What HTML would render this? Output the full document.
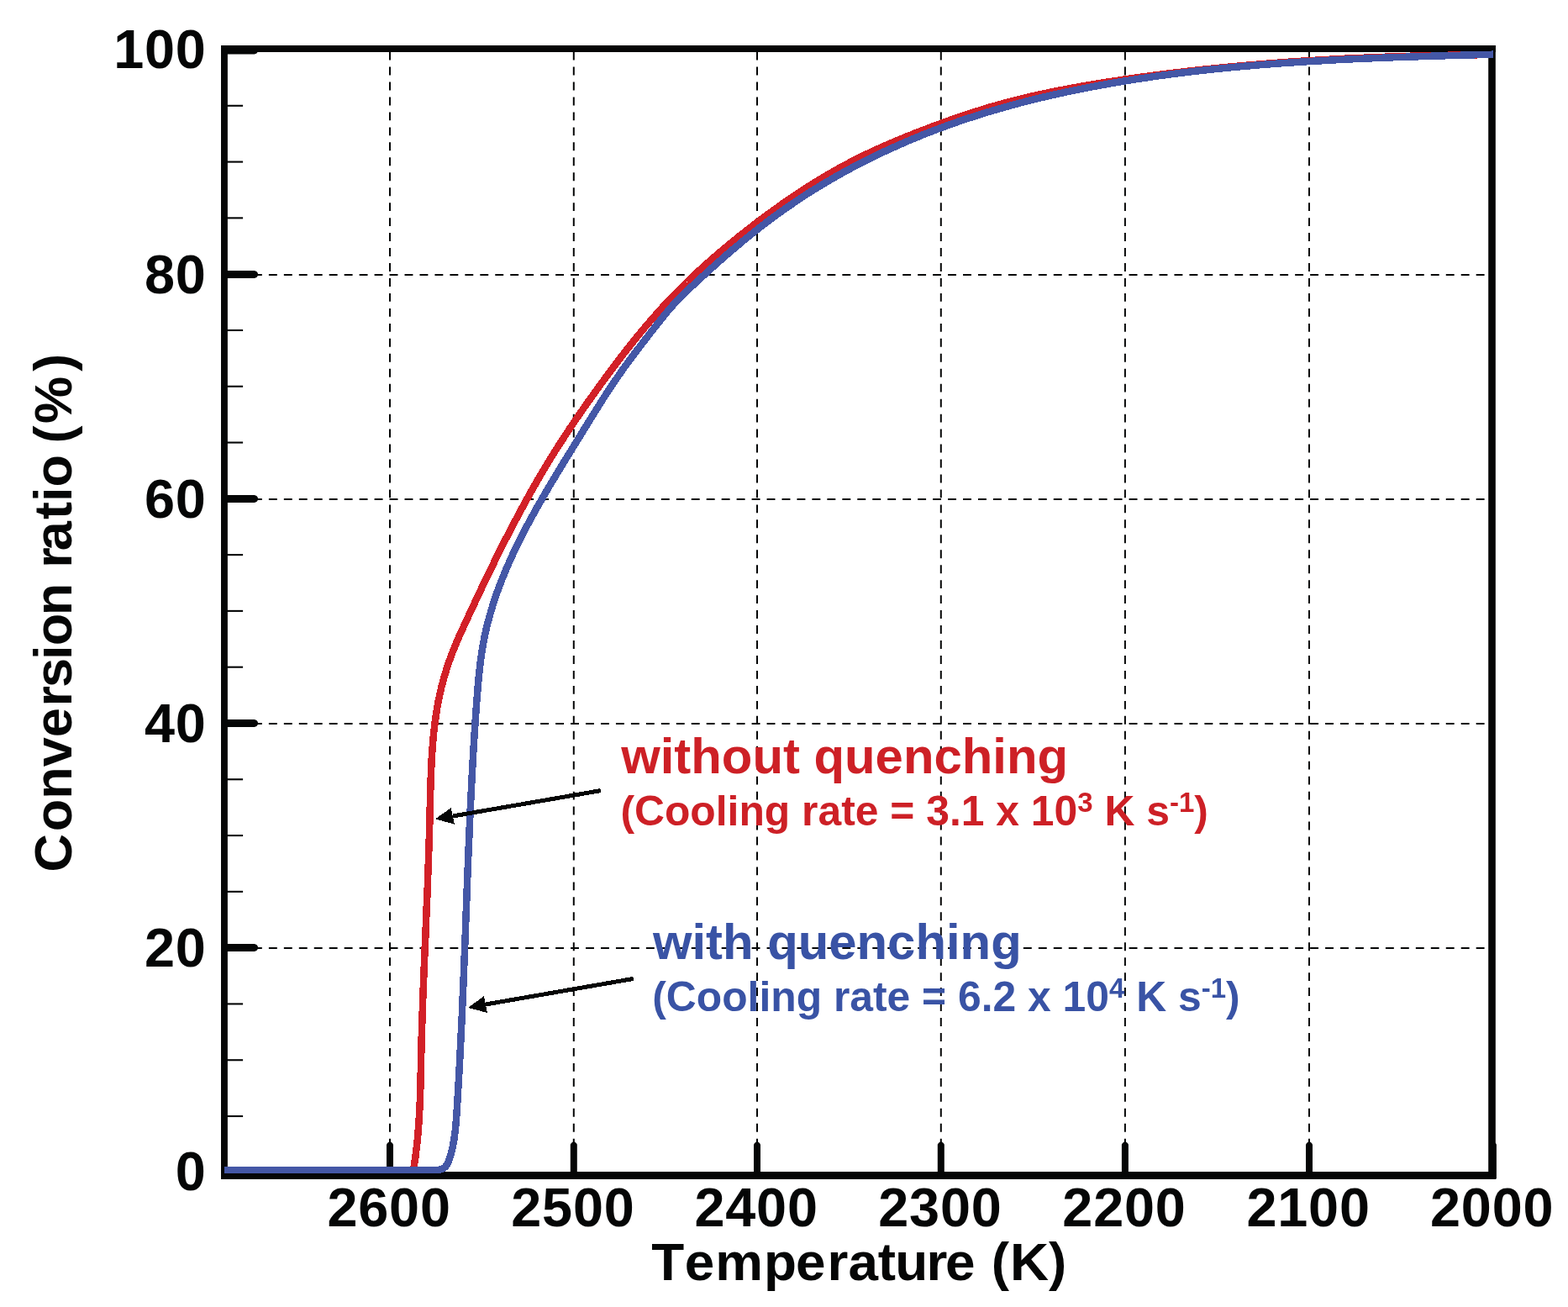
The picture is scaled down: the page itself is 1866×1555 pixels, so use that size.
<!DOCTYPE html>
<html lang="en"><head><meta charset="utf-8"><title>Conversion ratio vs temperature</title>
<style>html,body{margin:0;padding:0;background:#fff}body{width:1866px;height:1555px;overflow:hidden}svg{display:block}text{font-family:'Liberation Sans', sans-serif;font-weight:bold;font-kerning:none;font-variant-ligatures:none}</style></head><body>
<svg width="1866" height="1555" viewBox="0 0 1866 1555">
<rect width="1866" height="1555" fill="#fff"/>
<g id="gridh" stroke="#050606" stroke-width="2" stroke-dasharray="9.9 8.06" fill="none">
<line x1="266.0" y1="327.0" x2="1776" y2="327.0"/>
<line x1="266.0" y1="594.0" x2="1776" y2="594.0"/>
<line x1="266.0" y1="861.0" x2="1776" y2="861.0"/>
<line x1="266.0" y1="1128.0" x2="1776" y2="1128.0"/>
</g>
<g id="gridv" stroke="#050606" stroke-width="2" stroke-dasharray="9.9 8.06" fill="none">
<line x1="464.0" y1="61.6" x2="464.0" y2="1399"/>
<line x1="682.8" y1="61.6" x2="682.8" y2="1399"/>
<line x1="901.0" y1="61.6" x2="901.0" y2="1399"/>
<line x1="1119.8" y1="61.6" x2="1119.8" y2="1399"/>
<line x1="1338.9" y1="61.6" x2="1338.9" y2="1399"/>
<line x1="1558.0" y1="61.6" x2="1558.0" y2="1399"/>
</g>
<g id="annotations">
<text x="739.20" y="920.00" font-size="59.85" fill="#cd2026">without quenching</text>
<text x="738.40" y="981.70" font-size="49.80" fill="#cd2026">(Cooling rate = 3.1 x 10<tspan font-size="33.00" dy="-15.60">3</tspan><tspan dy="15.60"> K s</tspan><tspan font-size="33.00" dy="-15.60">-1</tspan><tspan dy="15.60">)</tspan></text>
<text x="776.90" y="1140.60" font-size="59.85" fill="#3953a5">with quenching</text>
<text x="776.20" y="1203.00" font-size="49.80" fill="#3953a5">(Cooling rate = 6.2 x 10<tspan font-size="33.00" dy="-15.60">4</tspan><tspan dy="15.60"> K s</tspan><tspan font-size="33.00" dy="-15.60">-1</tspan><tspan dy="15.60">)</tspan></text>
</g>
<g id="frame" fill="#050606">
<rect x="263.00" y="54.00" width="1516.80" height="8.00"/>
<rect x="263.00" y="1394.05" width="1516.80" height="8.95"/>
<rect x="263.00" y="54.00" width="7.90" height="1349.00"/>
<rect x="1771.20" y="54.00" width="8.60" height="1349.00"/>
<path d="M267,55.6 L302.8,55.6 L305.4,56.6 L306.9,58.6 L306.9,61.4 L305.4,63.4 L302.8,64.4 L267,64.4 Z"/>
<path d="M267,322.1 L302.8,322.1 L305.4,323.1 L306.9,325.1 L306.9,327.9 L305.4,329.9 L302.8,330.9 L267,330.9 Z"/>
<path d="M267,589.1 L302.8,589.1 L305.4,590.1 L306.9,592.1 L306.9,594.9 L305.4,596.9 L302.8,597.9 L267,597.9 Z"/>
<path d="M267,856.1 L302.8,856.1 L305.4,857.1 L306.9,859.1 L306.9,861.9 L305.4,863.9 L302.8,864.9 L267,864.9 Z"/>
<path d="M267,1123.1 L302.8,1123.1 L305.4,1124.1 L306.9,1126.1 L306.9,1128.9 L305.4,1130.9 L302.8,1131.9 L267,1131.9 Z"/>
<path d="M267,1390.2 L302.8,1390.2 L305.4,1391.2 L306.9,1393.2 L306.9,1396.0 L305.4,1398.0 L302.8,1399.0 L267,1399.0 Z"/>
<path d="M460.0,1402.6 L460.0,1361.8 L461.0,1360 L463.0,1358.4 L465.0,1358.4 L467.0,1360 L468.0,1361.8 L468.0,1402.6 Z"/>
<path d="M678.8,1402.6 L678.8,1361.8 L679.8,1360 L681.8,1358.4 L683.8,1358.4 L685.8,1360 L686.8,1361.8 L686.8,1402.6 Z"/>
<path d="M897.0,1402.6 L897.0,1361.8 L898.0,1360 L900.0,1358.4 L902.0,1358.4 L904.0,1360 L905.0,1361.8 L905.0,1402.6 Z"/>
<path d="M1115.8,1402.6 L1115.8,1361.8 L1116.8,1360 L1118.8,1358.4 L1120.8,1358.4 L1122.8,1360 L1123.8,1361.8 L1123.8,1402.6 Z"/>
<path d="M1334.9,1402.6 L1334.9,1361.8 L1335.9,1360 L1337.9,1358.4 L1339.9,1358.4 L1341.9,1360 L1342.9,1361.8 L1342.9,1402.6 Z"/>
<path d="M1554.0,1402.6 L1554.0,1361.8 L1555.0,1360 L1557.0,1358.4 L1559.0,1358.4 L1561.0,1360 L1562.0,1361.8 L1562.0,1402.6 Z"/>
<path d="M1772.9,1402.6 L1772.9,1361.8 L1773.9,1360 L1775.9,1358.4 L1777.9,1358.4 L1779.9,1360 L1780.9,1361.8 L1780.9,1402.6 Z"/>
<rect x="267" y="1326.96" width="22.1" height="2.1"/>
<rect x="267" y="1260.17" width="22.1" height="2.1"/>
<rect x="267" y="1193.38" width="22.1" height="2.1"/>
<rect x="267" y="1059.80" width="22.1" height="2.1"/>
<rect x="267" y="993.01" width="22.1" height="2.1"/>
<rect x="267" y="926.22" width="22.1" height="2.1"/>
<rect x="267" y="792.64" width="22.1" height="2.1"/>
<rect x="267" y="725.85" width="22.1" height="2.1"/>
<rect x="267" y="659.06" width="22.1" height="2.1"/>
<rect x="267" y="525.48" width="22.1" height="2.1"/>
<rect x="267" y="458.69" width="22.1" height="2.1"/>
<rect x="267" y="391.90" width="22.1" height="2.1"/>
<rect x="267" y="258.32" width="22.1" height="2.1"/>
<rect x="267" y="191.53" width="22.1" height="2.1"/>
<rect x="267" y="124.74" width="22.1" height="2.1"/>
</g>
<g id="curves" fill="none" stroke-width="8.5" stroke-linejoin="round" shape-rendering="crispEdges">
<path stroke="#d22027" d="M491.9,1392.0 L492.3,1389.5 L492.8,1387.1 L493.2,1384.6 L493.5,1382.1 L493.9,1379.6 L494.3,1377.2 L494.6,1374.7 L494.9,1372.2 L495.2,1369.7 L495.5,1367.3 L495.8,1364.8 L496.1,1362.3 L496.4,1359.8 L496.6,1357.3 L496.9,1354.8 L497.1,1352.3 L497.3,1349.9 L497.5,1347.4 L497.7,1344.9 L497.9,1342.4 L498.1,1339.9 L498.3,1337.4 L498.5,1334.9 L498.6,1332.4 L498.8,1329.9 L498.9,1327.4 L499.1,1324.9 L499.2,1322.4 L499.3,1319.9 L499.4,1317.4 L499.5,1314.9 L499.7,1312.4 L499.8,1309.8 L499.8,1307.3 L499.9,1304.8 L500.0,1302.3 L500.1,1299.8 L500.2,1297.3 L500.3,1294.8 L500.3,1292.3 L500.4,1289.8 L500.5,1287.3 L500.5,1284.8 L500.6,1282.3 L500.6,1279.7 L500.7,1277.2 L500.8,1274.7 L500.8,1272.2 L500.9,1269.7 L500.9,1267.2 L501.0,1264.7 L501.0,1262.2 L501.1,1259.7 L501.1,1257.2 L501.2,1254.7 L501.3,1252.1 L501.3,1249.6 L501.4,1247.1 L501.5,1244.6 L501.5,1242.1 L501.6,1239.6 L501.7,1237.1 L501.7,1234.6 L501.8,1232.1 L501.9,1229.6 L501.9,1227.1 L502.0,1224.6 L502.1,1222.1 L502.2,1219.6 L502.3,1217.1 L502.3,1214.6 L502.4,1212.1 L502.5,1209.6 L502.6,1207.1 L502.7,1204.6 L502.8,1202.1 L502.9,1199.6 L502.9,1197.1 L503.0,1194.6 L503.1,1192.1 L503.2,1189.6 L503.3,1187.1 L503.4,1184.6 L503.5,1182.1 L503.6,1179.6 L503.7,1177.1 L503.8,1174.6 L503.9,1172.1 L504.0,1169.6 L504.1,1167.1 L504.2,1164.6 L504.3,1162.1 L504.4,1159.6 L504.5,1157.1 L504.6,1154.6 L504.7,1152.1 L504.8,1149.6 L504.9,1147.1 L505.0,1144.6 L505.1,1142.1 L505.2,1139.6 L505.3,1137.1 L505.4,1134.7 L505.5,1132.2 L505.6,1129.7 L505.7,1127.2 L505.8,1124.7 L505.9,1122.2 L506.0,1119.7 L506.2,1117.2 L506.3,1114.7 L506.4,1112.2 L506.5,1109.7 L506.6,1107.2 L506.7,1104.7 L506.8,1102.2 L506.9,1099.7 L507.0,1097.2 L507.1,1094.7 L507.2,1092.2 L507.3,1089.7 L507.4,1087.2 L507.5,1084.7 L507.6,1082.2 L507.7,1079.7 L507.8,1077.2 L507.9,1074.7 L508.0,1072.2 L508.2,1069.7 L508.3,1067.2 L508.4,1064.7 L508.5,1062.2 L508.6,1059.7 L508.7,1057.2 L508.8,1054.7 L508.9,1052.2 L509.0,1049.7 L509.0,1047.2 L509.1,1044.7 L509.2,1042.2 L509.3,1039.7 L509.4,1037.2 L509.5,1034.7 L509.6,1032.2 L509.7,1029.7 L509.8,1027.2 L509.9,1024.7 L510.0,1022.2 L510.1,1019.7 L510.1,1017.2 L510.2,1014.7 L510.3,1012.2 L510.4,1009.7 L510.5,1007.2 L510.6,1004.7 L510.6,1002.1 L510.7,999.6 L510.8,997.1 L510.9,994.6 L510.9,992.1 L511.0,989.6 L511.1,987.1 L511.2,984.6 L511.2,982.1 L511.3,979.5 L511.4,977.0 L511.4,974.5 L511.5,972.0 L511.5,969.5 L511.6,967.0 L511.7,964.5 L511.7,961.9 L511.8,959.4 L511.8,956.9 L511.9,954.4 L512.0,951.9 L512.0,949.4 L512.1,946.8 L512.1,944.3 L512.2,941.8 L512.3,939.3 L512.4,936.8 L512.4,934.3 L512.5,931.7 L512.6,929.2 L512.7,926.7 L512.8,924.2 L512.9,921.7 L513.0,919.2 L513.1,916.7 L513.2,914.1 L513.3,911.6 L513.4,909.1 L513.5,906.6 L513.7,904.1 L513.8,901.6 L514.0,899.1 L514.1,896.6 L514.3,894.1 L514.5,891.6 L514.7,889.1 L514.9,886.6 L515.1,884.1 L515.3,881.6 L515.5,879.1 L515.7,876.6 L516.0,874.2 L516.2,871.7 L516.5,869.2 L516.8,866.7 L517.1,864.2 L517.4,861.7 L517.7,859.3 L518.0,856.8 L518.4,854.3 L518.7,851.9 L519.1,849.4 L519.5,846.9 L519.9,844.5 L520.3,842.0 L520.7,839.6 L521.2,837.1 L521.6,834.7 L522.1,832.2 L522.6,829.8 L523.1,827.4 L523.6,824.9 L524.2,822.5 L524.8,820.1 L525.3,817.6 L525.9,815.2 L526.6,812.8 L527.2,810.4 L527.9,808.0 L528.5,805.6 L529.2,803.2 L530.0,800.8 L530.7,798.4 L531.4,796.0 L532.2,793.6 L533.0,791.3 L533.8,788.9 L534.6,786.5 L535.5,784.2 L536.3,781.8 L537.2,779.5 L538.1,777.1 L539.0,774.8 L539.9,772.5 L540.9,770.2 L541.8,767.8 L542.8,765.5 L543.8,763.2 L544.8,760.9 L545.8,758.6 L546.8,756.3 L547.8,754.1 L548.9,751.8 L549.9,749.5 L551.0,747.2 L552.0,744.9 L553.0,742.6 L554.1,740.4 L555.2,738.1 L556.2,735.8 L557.3,733.5 L558.3,731.3 L559.4,729.0 L560.4,726.7 L561.5,724.5 L562.6,722.2 L563.6,719.9 L564.7,717.7 L565.7,715.4 L566.8,713.1 L567.9,710.9 L568.9,708.6 L570.0,706.3 L571.1,704.1 L572.2,701.8 L573.2,699.6 L574.3,697.3 L575.4,695.0 L576.5,692.8 L577.6,690.5 L578.6,688.3 L579.7,686.0 L580.8,683.8 L581.9,681.5 L583.0,679.3 L584.1,677.0 L585.2,674.8 L586.3,672.5 L587.4,670.3 L588.5,668.0 L589.6,665.8 L590.7,663.5 L591.8,661.3 L592.9,659.0 L594.1,656.8 L595.2,654.6 L596.3,652.3 L597.4,650.1 L598.5,647.8 L599.7,645.6 L600.8,643.4 L601.9,641.1 L603.1,638.9 L604.2,636.7 L605.4,634.5 L606.5,632.2 L607.7,630.0 L608.8,627.8 L610.0,625.6 L611.2,623.3 L612.3,621.1 L613.5,618.9 L614.7,616.7 L615.8,614.5 L617.0,612.3 L618.2,610.1 L619.4,607.9 L620.6,605.7 L621.8,603.5 L623.0,601.3 L624.2,599.1 L625.4,596.9 L626.6,594.7 L627.8,592.5 L629.0,590.3 L630.2,588.1 L631.4,585.9 L632.7,583.7 L633.9,581.6 L635.1,579.4 L636.4,577.2 L637.6,575.0 L638.9,572.9 L640.1,570.7 L641.4,568.5 L642.7,566.4 L643.9,564.2 L645.2,562.1 L646.5,559.9 L647.7,557.8 L649.0,555.6 L650.3,553.5 L651.6,551.3 L652.9,549.2 L654.2,547.1 L655.5,544.9 L656.8,542.8 L658.2,540.7 L659.5,538.5 L660.8,536.4 L662.1,534.3 L663.5,532.2 L664.8,530.1 L666.2,528.0 L667.5,525.9 L668.9,523.8 L670.3,521.7 L671.6,519.6 L673.0,517.5 L674.4,515.4 L675.8,513.3 L677.1,511.2 L678.5,509.1 L679.9,507.1 L681.3,505.0 L682.7,502.9 L684.1,500.8 L685.5,498.8 L686.9,496.7 L688.4,494.7 L689.8,492.6 L691.2,490.5 L692.6,488.5 L694.1,486.4 L695.5,484.4 L696.9,482.3 L698.4,480.3 L699.8,478.2 L701.3,476.2 L702.7,474.1 L704.2,472.1 L705.6,470.1 L707.1,468.0 L708.6,466.0 L710.0,464.0 L711.5,461.9 L713.0,459.9 L714.4,457.9 L715.9,455.8 L717.4,453.8 L718.9,451.8 L720.3,449.8 L721.8,447.8 L723.3,445.7 L724.8,443.7 L726.3,441.7 L727.8,439.7 L729.3,437.7 L730.8,435.7 L732.3,433.7 L733.8,431.7 L735.4,429.7 L736.9,427.7 L738.4,425.7 L739.9,423.7 L741.5,421.7 L743.0,419.8 L744.5,417.8 L746.1,415.8 L747.6,413.9 L749.2,411.9 L750.8,409.9 L752.3,408.0 L753.9,406.0 L755.5,404.1 L757.0,402.1 L758.6,400.2 L760.2,398.2 L761.8,396.3 L763.4,394.4 L765.0,392.5 L766.6,390.5 L768.2,388.6 L769.8,386.7 L771.5,384.8 L773.1,382.9 L774.7,381.0 L776.4,379.1 L778.0,377.2 L779.7,375.4 L781.3,373.5 L783.0,371.6 L784.7,369.8 L786.3,367.9 L788.0,366.1 L789.7,364.2 L791.4,362.4 L793.1,360.6 L794.8,358.7 L796.5,356.9 L798.3,355.1 L800.0,353.3 L801.7,351.5 L803.5,349.7 L805.2,347.9 L807.0,346.1 L808.7,344.4 L810.5,342.6 L812.3,340.8 L814.1,339.1 L815.8,337.3 L817.6,335.6 L819.4,333.8 L821.2,332.1 L823.0,330.4 L824.9,328.7 L826.7,326.9 L828.5,325.2 L830.3,323.5 L832.2,321.8 L834.0,320.1 L835.9,318.5 L837.7,316.8 L839.6,315.1 L841.5,313.4 L843.3,311.8 L845.2,310.1 L847.1,308.5 L849.0,306.8 L850.9,305.2 L852.8,303.5 L854.7,301.9 L856.6,300.3 L858.5,298.6 L860.4,297.0 L862.3,295.4 L864.2,293.8 L866.1,292.2 L868.1,290.6 L870.0,289.0 L872.0,287.4 L873.9,285.8 L875.9,284.3 L877.8,282.7 L879.8,281.1 L881.7,279.6 L883.7,278.0 L885.7,276.4 L887.6,274.9 L889.6,273.4 L891.6,271.8 L893.6,270.3 L895.6,268.8 L897.6,267.2 L899.5,265.7 L901.5,264.2 L903.5,262.7 L905.6,261.2 L907.6,259.7 L909.6,258.2 L911.6,256.7 L913.6,255.2 L915.6,253.7 L917.7,252.2 L919.7,250.7 L921.7,249.3 L923.8,247.8 L925.8,246.4 L927.8,244.9 L929.9,243.5 L931.9,242.0 L934.0,240.6 L936.1,239.1 L938.1,237.7 L940.2,236.3 L942.3,234.9 L944.3,233.5 L946.4,232.1 L948.5,230.7 L950.6,229.3 L952.7,227.9 L954.8,226.6 L956.9,225.2 L959.0,223.8 L961.1,222.5 L963.2,221.2 L965.3,219.8 L967.4,218.5 L969.6,217.2 L971.7,215.9 L973.8,214.5 L976.0,213.3 L978.1,212.0 L980.2,210.7 L982.4,209.4 L984.6,208.1 L986.7,206.9 L988.9,205.6 L991.1,204.4 L993.2,203.2 L995.4,201.9 L997.6,200.7 L999.8,199.5 L1002.0,198.3 L1004.2,197.1 L1006.4,195.9 L1008.6,194.8 L1010.8,193.6 L1013.0,192.5 L1015.2,191.3 L1017.5,190.2 L1019.7,189.1 L1021.9,187.9 L1024.2,186.8 L1026.4,185.7 L1028.7,184.6 L1030.9,183.5 L1033.2,182.5 L1035.5,181.4 L1037.7,180.3 L1040.0,179.3 L1042.3,178.2 L1044.5,177.2 L1046.8,176.2 L1049.1,175.2 L1051.4,174.1 L1053.7,173.1 L1056.0,172.1 L1058.3,171.1 L1060.6,170.1 L1062.9,169.2 L1065.2,168.2 L1067.5,167.2 L1069.8,166.2 L1072.1,165.3 L1074.5,164.3 L1076.8,163.4 L1079.1,162.4 L1081.4,161.5 L1083.8,160.6 L1086.1,159.6 L1088.4,158.7 L1090.8,157.8 L1093.1,156.9 L1095.4,156.0 L1097.8,155.1 L1100.1,154.2 L1102.5,153.3 L1104.8,152.4 L1107.1,151.5 L1109.5,150.6 L1111.8,149.8 L1114.2,148.9 L1116.5,148.0 L1118.9,147.2 L1121.3,146.3 L1123.6,145.4 L1126.0,144.6 L1128.3,143.8 L1130.7,142.9 L1133.1,142.1 L1135.4,141.3 L1137.8,140.4 L1140.2,139.6 L1142.5,138.8 L1144.9,138.0 L1147.3,137.2 L1149.7,136.4 L1152.0,135.6 L1154.4,134.8 L1156.8,134.1 L1159.2,133.3 L1161.6,132.5 L1164.0,131.8 L1166.3,131.1 L1168.7,130.3 L1171.1,129.6 L1173.5,128.9 L1175.9,128.1 L1178.3,127.4 L1180.7,126.7 L1183.1,126.0 L1185.5,125.4 L1188.0,124.7 L1190.4,124.0 L1192.8,123.4 L1195.2,122.7 L1197.6,122.1 L1200.0,121.4 L1202.4,120.8 L1204.9,120.2 L1207.3,119.5 L1209.7,118.9 L1212.1,118.3 L1214.6,117.7 L1217.0,117.1 L1219.4,116.5 L1221.9,116.0 L1224.3,115.4 L1226.7,114.8 L1229.2,114.3 L1231.6,113.7 L1234.1,113.2 L1236.5,112.6 L1238.9,112.1 L1241.4,111.6 L1243.8,111.0 L1246.3,110.5 L1248.7,110.0 L1251.2,109.5 L1253.6,109.0 L1256.1,108.5 L1258.6,108.0 L1261.0,107.5 L1263.5,107.0 L1265.9,106.6 L1268.4,106.1 L1270.8,105.6 L1273.3,105.2 L1275.8,104.7 L1278.2,104.3 L1280.7,103.8 L1283.2,103.4 L1285.6,102.9 L1288.1,102.5 L1290.6,102.1 L1293.0,101.6 L1295.5,101.2 L1298.0,100.8 L1300.4,100.4 L1302.9,100.0 L1305.4,99.6 L1307.9,99.2 L1310.3,98.8 L1312.8,98.4 L1315.3,98.0 L1317.8,97.6 L1320.2,97.2 L1322.7,96.8 L1325.2,96.5 L1327.7,96.1 L1330.2,95.7 L1332.6,95.3 L1335.1,95.0 L1337.6,94.6 L1340.1,94.3 L1342.5,93.9 L1345.0,93.5 L1347.5,93.2 L1350.0,92.8 L1352.5,92.5 L1355.0,92.1 L1357.4,91.8 L1359.9,91.5 L1362.4,91.1 L1364.9,90.8 L1367.4,90.5 L1369.8,90.1 L1372.3,89.8 L1374.8,89.5 L1377.3,89.2 L1379.8,88.8 L1382.3,88.5 L1384.8,88.2 L1387.2,87.9 L1389.7,87.6 L1392.2,87.3 L1394.7,87.0 L1397.2,86.7 L1399.7,86.4 L1402.2,86.1 L1404.6,85.8 L1407.1,85.5 L1409.6,85.2 L1412.1,84.9 L1414.6,84.6 L1417.1,84.4 L1419.6,84.1 L1422.1,83.8 L1424.5,83.5 L1427.0,83.3 L1429.5,83.0 L1432.0,82.7 L1434.5,82.5 L1437.0,82.2 L1439.5,81.9 L1442.0,81.7 L1444.5,81.4 L1447.0,81.2 L1449.5,80.9 L1451.9,80.7 L1454.4,80.4 L1456.9,80.2 L1459.4,79.9 L1461.9,79.7 L1464.4,79.5 L1466.9,79.2 L1469.4,79.0 L1471.9,78.8 L1474.4,78.5 L1476.9,78.3 L1479.4,78.1 L1481.9,77.9 L1484.3,77.7 L1486.8,77.4 L1489.3,77.2 L1491.8,77.0 L1494.3,76.8 L1496.8,76.6 L1499.3,76.4 L1501.8,76.2 L1504.3,76.0 L1506.8,75.8 L1509.3,75.6 L1511.8,75.4 L1514.3,75.2 L1516.8,75.0 L1519.3,74.8 L1521.8,74.6 L1524.3,74.4 L1526.8,74.3 L1529.3,74.1 L1531.8,73.9 L1534.3,73.7 L1536.8,73.6 L1539.3,73.4 L1541.8,73.2 L1544.3,73.0 L1546.8,72.9 L1549.3,72.7 L1551.8,72.6 L1554.3,72.4 L1556.8,72.2 L1559.3,72.1 L1561.8,71.9 L1564.3,71.8 L1566.8,71.6 L1569.3,71.5 L1571.8,71.3 L1574.3,71.2 L1576.8,71.0 L1579.3,70.9 L1581.8,70.8 L1584.3,70.6 L1586.8,70.5 L1589.3,70.3 L1591.8,70.2 L1594.3,70.1 L1596.8,70.0 L1599.3,69.8 L1601.8,69.7 L1604.3,69.6 L1606.8,69.5 L1609.3,69.3 L1611.8,69.2 L1614.3,69.1 L1616.8,69.0 L1619.3,68.9 L1621.8,68.8 L1624.3,68.7 L1626.8,68.6 L1629.3,68.5 L1631.8,68.4 L1634.3,68.3 L1636.8,68.2 L1639.3,68.1 L1641.8,68.0 L1644.3,67.9 L1646.8,67.8 L1649.3,67.7 L1651.8,67.6 L1654.3,67.5 L1656.8,67.4 L1659.3,67.3 L1661.8,67.3 L1664.3,67.2 L1666.8,67.1 L1669.3,67.0 L1671.8,66.9 L1674.3,66.9 L1676.8,66.8 L1679.3,66.7 L1681.8,66.7 L1684.3,66.6 L1686.9,66.5 L1689.4,66.5 L1691.9,66.4 L1694.4,66.3 L1696.9,66.3 L1699.4,66.2 L1701.9,66.2 L1704.4,66.1 L1706.9,66.0 L1709.4,66.0 L1711.9,65.9 L1714.4,65.9 L1716.9,65.8 L1719.4,65.8 L1721.9,65.8 L1724.4,65.7 L1726.9,65.7 L1729.4,65.6 L1731.9,65.6 L1734.4,65.5 L1736.9,65.5 L1739.4,65.5 L1741.9,65.4 L1744.4,65.4 L1747.0,65.4 L1749.5,65.3 L1752.0,65.3 L1754.5,65.3 L1757.0,65.3 L1759.5,65.2 L1762.0,65.2 L1764.5,65.2 L1767.0,65.2 L1769.5,65.2 L1772.0,65.1 L1774.5,65.1 L1777.0,65.1"/>
<path stroke="#4457a6" d="M267.0,1392.1 L490.0,1392.1 L492.5,1392.0 L495.0,1391.9 L497.5,1391.8 L500.0,1391.9 L502.4,1391.9 L504.9,1392.0 L507.4,1392.1 L509.9,1392.1 L512.5,1392.1 L515.1,1392.1 L517.7,1392.1 L520.3,1392.1 L522.9,1391.7 L525.3,1391.0 L527.5,1390.0 L529.4,1388.7 L531.0,1387.0 L532.3,1385.0 L533.4,1382.8 L534.3,1380.4 L535.1,1378.0 L535.8,1375.6 L536.5,1373.2 L537.2,1370.8 L537.8,1368.3 L538.4,1365.9 L538.9,1363.4 L539.4,1361.0 L539.8,1358.5 L540.3,1356.1 L540.6,1353.6 L541.0,1351.1 L541.3,1348.6 L541.6,1346.2 L541.9,1343.7 L542.2,1341.2 L542.4,1338.7 L542.6,1336.2 L542.8,1333.7 L543.0,1331.2 L543.2,1328.7 L543.4,1326.2 L543.5,1323.7 L543.7,1321.2 L543.9,1318.7 L544.0,1316.2 L544.2,1313.7 L544.3,1311.2 L544.5,1308.7 L544.6,1306.2 L544.8,1303.7 L544.9,1301.2 L545.1,1298.7 L545.2,1296.1 L545.4,1293.6 L545.5,1291.1 L545.7,1288.6 L545.8,1286.1 L546.0,1283.6 L546.1,1281.1 L546.2,1278.6 L546.4,1276.1 L546.5,1273.6 L546.7,1271.1 L546.8,1268.6 L546.9,1266.1 L547.1,1263.6 L547.2,1261.1 L547.3,1258.6 L547.5,1256.1 L547.6,1253.6 L547.7,1251.1 L547.8,1248.6 L548.0,1246.1 L548.1,1243.6 L548.2,1241.1 L548.3,1238.6 L548.5,1236.1 L548.6,1233.6 L548.7,1231.1 L548.8,1228.6 L548.9,1226.1 L549.1,1223.6 L549.2,1221.0 L549.3,1218.5 L549.4,1216.0 L549.5,1213.5 L549.6,1211.0 L549.8,1208.5 L549.9,1206.0 L550.0,1203.5 L550.1,1201.0 L550.2,1198.5 L550.3,1196.0 L550.4,1193.5 L550.5,1191.0 L550.6,1188.5 L550.7,1186.0 L550.9,1183.5 L551.0,1181.0 L551.1,1178.5 L551.2,1176.0 L551.3,1173.5 L551.4,1171.0 L551.5,1168.5 L551.6,1166.0 L551.7,1163.5 L551.8,1161.0 L551.9,1158.5 L552.0,1156.0 L552.1,1153.5 L552.2,1151.0 L552.3,1148.5 L552.4,1146.0 L552.5,1143.5 L552.6,1141.0 L552.7,1138.5 L552.8,1136.0 L552.9,1133.5 L553.0,1131.0 L553.1,1128.5 L553.2,1126.0 L553.3,1123.5 L553.4,1121.0 L553.5,1118.5 L553.6,1116.0 L553.7,1113.5 L553.8,1111.0 L553.8,1108.5 L553.9,1106.0 L554.0,1103.5 L554.1,1101.0 L554.2,1098.5 L554.3,1096.0 L554.4,1093.5 L554.5,1091.0 L554.6,1088.5 L554.7,1086.0 L554.8,1083.5 L554.9,1081.0 L555.0,1078.5 L555.1,1076.0 L555.2,1073.5 L555.3,1071.0 L555.4,1068.5 L555.5,1066.0 L555.6,1063.5 L555.7,1061.0 L555.7,1058.5 L555.8,1056.0 L555.9,1053.5 L556.0,1051.0 L556.1,1048.5 L556.2,1046.0 L556.3,1043.5 L556.4,1041.0 L556.5,1038.5 L556.6,1036.0 L556.7,1033.5 L556.8,1031.0 L556.9,1028.5 L557.0,1026.0 L557.1,1023.5 L557.2,1021.0 L557.3,1018.5 L557.4,1016.0 L557.5,1013.5 L557.6,1011.0 L557.7,1008.5 L557.8,1006.0 L557.9,1003.5 L558.0,1001.0 L558.2,998.5 L558.3,996.0 L558.4,993.5 L558.5,991.0 L558.6,988.5 L558.7,986.0 L558.8,983.5 L558.9,981.0 L559.0,978.5 L559.1,976.0 L559.2,973.5 L559.4,971.0 L559.5,968.5 L559.6,966.0 L559.7,963.5 L559.8,961.0 L559.9,958.5 L560.1,956.0 L560.2,953.5 L560.3,951.0 L560.4,948.5 L560.6,946.0 L560.7,943.5 L560.8,941.0 L560.9,938.5 L561.1,935.9 L561.2,933.4 L561.3,930.9 L561.4,928.4 L561.6,925.9 L561.7,923.4 L561.8,920.9 L562.0,918.4 L562.1,915.9 L562.2,913.4 L562.4,910.9 L562.5,908.4 L562.7,905.9 L562.8,903.4 L563.0,900.9 L563.1,898.4 L563.2,895.9 L563.4,893.4 L563.5,890.9 L563.7,888.4 L563.8,885.9 L564.0,883.4 L564.2,880.9 L564.3,878.4 L564.5,875.9 L564.6,873.4 L564.8,870.9 L565.0,868.4 L565.1,865.9 L565.3,863.4 L565.5,860.9 L565.6,858.4 L565.8,855.9 L566.0,853.3 L566.1,850.8 L566.3,848.3 L566.5,845.8 L566.7,843.3 L566.8,840.8 L567.0,838.3 L567.2,835.8 L567.4,833.3 L567.6,830.8 L567.8,828.3 L568.0,825.8 L568.2,823.3 L568.4,820.8 L568.6,818.3 L568.8,815.8 L569.0,813.3 L569.3,810.8 L569.5,808.3 L569.7,805.8 L570.0,803.3 L570.2,800.8 L570.5,798.3 L570.8,795.8 L571.1,793.3 L571.4,790.8 L571.7,788.3 L572.0,785.8 L572.3,783.4 L572.7,780.9 L573.0,778.4 L573.4,775.9 L573.8,773.5 L574.2,771.0 L574.6,768.5 L575.0,766.1 L575.5,763.6 L576.0,761.2 L576.4,758.7 L576.9,756.3 L577.5,753.8 L578.0,751.4 L578.5,749.0 L579.1,746.6 L579.7,744.1 L580.3,741.7 L580.9,739.3 L581.6,736.9 L582.2,734.5 L582.9,732.1 L583.6,729.7 L584.3,727.3 L585.0,724.9 L585.7,722.5 L586.4,720.1 L587.2,717.7 L588.0,715.4 L588.8,713.0 L589.6,710.6 L590.4,708.3 L591.2,705.9 L592.0,703.5 L592.9,701.2 L593.7,698.8 L594.6,696.5 L595.5,694.2 L596.4,691.8 L597.3,689.5 L598.3,687.2 L599.2,684.8 L600.2,682.5 L601.1,680.2 L602.1,677.9 L603.1,675.6 L604.1,673.3 L605.1,671.0 L606.1,668.7 L607.1,666.4 L608.1,664.1 L609.2,661.8 L610.2,659.5 L611.3,657.3 L612.4,655.0 L613.5,652.7 L614.6,650.5 L615.7,648.2 L616.8,645.9 L617.9,643.7 L619.0,641.4 L620.1,639.2 L621.3,637.0 L622.4,634.7 L623.6,632.5 L624.7,630.3 L625.9,628.0 L627.1,625.8 L628.2,623.6 L629.4,621.4 L630.6,619.2 L631.8,617.0 L633.0,614.8 L634.2,612.6 L635.4,610.4 L636.7,608.2 L637.9,606.0 L639.1,603.8 L640.3,601.6 L641.6,599.4 L642.8,597.3 L644.1,595.1 L645.3,592.9 L646.6,590.8 L647.8,588.6 L649.1,586.4 L650.3,584.3 L651.6,582.1 L652.9,580.0 L654.1,577.8 L655.4,575.7 L656.7,573.5 L658.0,571.4 L659.3,569.3 L660.6,567.1 L661.8,565.0 L663.1,562.8 L664.4,560.7 L665.7,558.6 L667.0,556.4 L668.3,554.3 L669.6,552.2 L670.9,550.1 L672.2,547.9 L673.5,545.8 L674.8,543.7 L676.2,541.5 L677.5,539.4 L678.8,537.3 L680.1,535.2 L681.4,533.0 L682.7,530.9 L684.0,528.8 L685.3,526.7 L686.7,524.5 L688.0,522.4 L689.3,520.3 L690.6,518.1 L691.9,516.0 L693.2,513.9 L694.5,511.7 L695.8,509.6 L697.2,507.5 L698.5,505.3 L699.8,503.2 L701.1,501.1 L702.4,498.9 L703.8,496.8 L705.1,494.7 L706.4,492.5 L707.7,490.4 L709.1,488.3 L710.4,486.2 L711.7,484.0 L713.1,481.9 L714.4,479.8 L715.7,477.7 L717.1,475.6 L718.4,473.4 L719.8,471.3 L721.2,469.2 L722.5,467.1 L723.9,465.0 L725.3,462.9 L726.7,460.8 L728.0,458.7 L729.4,456.7 L730.8,454.6 L732.2,452.5 L733.7,450.4 L735.1,448.4 L736.5,446.3 L737.9,444.3 L739.4,442.2 L740.8,440.2 L742.3,438.1 L743.7,436.1 L745.2,434.1 L746.7,432.0 L748.2,430.0 L749.6,428.0 L751.1,426.0 L752.6,424.0 L754.1,422.0 L755.6,420.0 L757.1,418.0 L758.6,416.0 L760.2,414.0 L761.7,412.0 L763.2,410.0 L764.7,408.0 L766.3,406.1 L767.8,404.1 L769.3,402.1 L770.9,400.1 L772.4,398.2 L773.9,396.2 L775.5,394.2 L777.0,392.2 L778.6,390.3 L780.1,388.3 L781.7,386.3 L783.2,384.4 L784.8,382.4 L786.3,380.4 L787.9,378.5 L789.5,376.5 L791.1,374.6 L792.6,372.7 L794.2,370.7 L795.9,368.8 L797.5,366.9 L799.1,365.0 L800.8,363.2 L802.4,361.3 L804.1,359.5 L805.9,357.7 L807.6,355.9 L809.3,354.1 L811.1,352.3 L812.9,350.5 L814.7,348.8 L816.5,347.1 L818.3,345.3 L820.1,343.6 L822.0,341.9 L823.8,340.2 L825.6,338.5 L827.5,336.8 L829.3,335.1 L831.1,333.4 L833.0,331.7 L834.8,330.0 L836.7,328.3 L838.5,326.6 L840.4,324.9 L842.3,323.2 L844.1,321.5 L846.0,319.8 L847.8,318.2 L849.7,316.5 L851.6,314.8 L853.4,313.2 L855.3,311.5 L857.2,309.8 L859.1,308.2 L861.0,306.5 L862.9,304.9 L864.7,303.2 L866.6,301.6 L868.5,300.0 L870.4,298.3 L872.3,296.7 L874.3,295.1 L876.2,293.5 L878.1,291.9 L880.0,290.2 L881.9,288.6 L883.8,287.0 L885.8,285.4 L887.7,283.9 L889.7,282.3 L891.6,280.7 L893.5,279.1 L895.5,277.6 L897.4,276.0 L899.4,274.4 L901.4,272.9 L903.3,271.4 L905.3,269.8 L907.3,268.3 L909.3,266.8 L911.3,265.2 L913.2,263.7 L915.2,262.2 L917.2,260.7 L919.3,259.2 L921.3,257.7 L923.3,256.3 L925.3,254.8 L927.3,253.3 L929.4,251.9 L931.4,250.4 L933.4,249.0 L935.5,247.5 L937.5,246.1 L939.6,244.7 L941.7,243.3 L943.7,241.9 L945.8,240.5 L947.9,239.1 L950.0,237.7 L952.0,236.3 L954.1,234.9 L956.2,233.5 L958.3,232.2 L960.4,230.8 L962.5,229.5 L964.7,228.1 L966.8,226.8 L968.9,225.5 L971.0,224.2 L973.2,222.9 L975.3,221.6 L977.4,220.3 L979.6,219.0 L981.7,217.7 L983.9,216.4 L986.0,215.1 L988.2,213.9 L990.4,212.6 L992.5,211.4 L994.7,210.1 L996.9,208.9 L999.1,207.7 L1001.3,206.4 L1003.5,205.2 L1005.7,204.0 L1007.9,202.8 L1010.1,201.6 L1012.3,200.4 L1014.5,199.2 L1016.7,198.1 L1018.9,196.9 L1021.1,195.7 L1023.4,194.6 L1025.6,193.4 L1027.8,192.3 L1030.0,191.2 L1032.3,190.0 L1034.5,188.9 L1036.8,187.8 L1039.0,186.7 L1041.3,185.6 L1043.5,184.5 L1045.8,183.4 L1048.1,182.3 L1050.3,181.3 L1052.6,180.2 L1054.9,179.1 L1057.2,178.1 L1059.4,177.0 L1061.7,176.0 L1064.0,175.0 L1066.3,173.9 L1068.6,172.9 L1070.9,171.9 L1073.2,170.9 L1075.5,169.9 L1077.8,168.9 L1080.1,167.9 L1082.4,166.9 L1084.7,166.0 L1087.0,165.0 L1089.3,164.0 L1091.7,163.1 L1094.0,162.1 L1096.3,161.2 L1098.6,160.2 L1101.0,159.3 L1103.3,158.4 L1105.6,157.5 L1108.0,156.6 L1110.3,155.7 L1112.7,154.8 L1115.0,153.9 L1117.4,153.0 L1119.7,152.1 L1122.1,151.3 L1124.4,150.4 L1126.8,149.5 L1129.1,148.7 L1131.5,147.8 L1133.8,147.0 L1136.2,146.2 L1138.6,145.4 L1140.9,144.5 L1143.3,143.7 L1145.7,142.9 L1148.1,142.1 L1150.4,141.3 L1152.8,140.5 L1155.2,139.8 L1157.6,139.0 L1160.0,138.2 L1162.3,137.5 L1164.7,136.7 L1167.1,136.0 L1169.5,135.2 L1171.9,134.5 L1174.3,133.7 L1176.7,133.0 L1179.1,132.3 L1181.5,131.6 L1183.9,130.9 L1186.3,130.2 L1188.7,129.5 L1191.1,128.8 L1193.5,128.1 L1195.9,127.4 L1198.3,126.7 L1200.7,126.1 L1203.2,125.4 L1205.6,124.8 L1208.0,124.1 L1210.4,123.5 L1212.8,122.8 L1215.2,122.2 L1217.7,121.6 L1220.1,120.9 L1222.5,120.3 L1224.9,119.7 L1227.4,119.1 L1229.8,118.5 L1232.2,117.9 L1234.7,117.3 L1237.1,116.7 L1239.5,116.1 L1242.0,115.5 L1244.4,115.0 L1246.8,114.4 L1249.3,113.8 L1251.7,113.3 L1254.2,112.7 L1256.6,112.2 L1259.0,111.6 L1261.5,111.1 L1263.9,110.6 L1266.4,110.0 L1268.8,109.5 L1271.3,109.0 L1273.7,108.5 L1276.2,108.0 L1278.6,107.5 L1281.1,107.0 L1283.5,106.5 L1286.0,106.0 L1288.4,105.5 L1290.9,105.0 L1293.3,104.5 L1295.8,104.0 L1298.3,103.6 L1300.7,103.1 L1303.2,102.6 L1305.6,102.2 L1308.1,101.7 L1310.6,101.3 L1313.0,100.8 L1315.5,100.4 L1317.9,99.9 L1320.4,99.5 L1322.9,99.1 L1325.3,98.6 L1327.8,98.2 L1330.3,97.8 L1332.7,97.4 L1335.2,97.0 L1337.7,96.6 L1340.1,96.2 L1342.6,95.8 L1345.1,95.4 L1347.6,95.0 L1350.0,94.6 L1352.5,94.2 L1355.0,93.8 L1357.5,93.4 L1359.9,93.1 L1362.4,92.7 L1364.9,92.3 L1367.4,92.0 L1369.8,91.6 L1372.3,91.2 L1374.8,90.9 L1377.3,90.5 L1379.7,90.2 L1382.2,89.8 L1384.7,89.5 L1387.2,89.2 L1389.7,88.8 L1392.1,88.5 L1394.6,88.2 L1397.1,87.9 L1399.6,87.5 L1402.1,87.2 L1404.6,86.9 L1407.0,86.6 L1409.5,86.3 L1412.0,86.0 L1414.5,85.7 L1417.0,85.4 L1419.5,85.1 L1422.0,84.8 L1424.4,84.5 L1426.9,84.2 L1429.4,84.0 L1431.9,83.7 L1434.4,83.4 L1436.9,83.1 L1439.4,82.9 L1441.9,82.6 L1444.4,82.3 L1446.9,82.1 L1449.3,81.8 L1451.8,81.6 L1454.3,81.3 L1456.8,81.1 L1459.3,80.8 L1461.8,80.6 L1464.3,80.3 L1466.8,80.1 L1469.3,79.9 L1471.8,79.6 L1474.3,79.4 L1476.8,79.2 L1479.3,78.9 L1481.8,78.7 L1484.3,78.5 L1486.8,78.3 L1489.3,78.1 L1491.8,77.9 L1494.3,77.7 L1496.8,77.4 L1499.3,77.2 L1501.8,77.0 L1504.3,76.8 L1506.7,76.6 L1509.2,76.4 L1511.7,76.3 L1514.2,76.1 L1516.7,75.9 L1519.2,75.7 L1521.7,75.5 L1524.2,75.3 L1526.7,75.1 L1529.3,75.0 L1531.8,74.8 L1534.3,74.6 L1536.8,74.4 L1539.3,74.3 L1541.8,74.1 L1544.3,73.9 L1546.8,73.8 L1549.3,73.6 L1551.8,73.5 L1554.3,73.3 L1556.8,73.2 L1559.3,73.0 L1561.8,72.9 L1564.3,72.7 L1566.8,72.6 L1569.3,72.4 L1571.8,72.3 L1574.3,72.1 L1576.8,72.0 L1579.3,71.9 L1581.8,71.7 L1584.3,71.6 L1586.8,71.4 L1589.3,71.3 L1591.8,71.2 L1594.3,71.1 L1596.8,70.9 L1599.3,70.8 L1601.8,70.7 L1604.3,70.6 L1606.9,70.4 L1609.4,70.3 L1611.9,70.2 L1614.4,70.1 L1616.9,70.0 L1619.4,69.9 L1621.9,69.8 L1624.4,69.6 L1626.9,69.5 L1629.4,69.4 L1631.9,69.3 L1634.4,69.2 L1636.9,69.1 L1639.4,69.0 L1641.9,68.9 L1644.4,68.8 L1646.9,68.7 L1649.4,68.6 L1651.9,68.5 L1654.4,68.4 L1656.9,68.3 L1659.4,68.2 L1661.9,68.1 L1664.4,68.1 L1667.0,68.0 L1669.5,67.9 L1672.0,67.8 L1674.5,67.7 L1677.0,67.6 L1679.5,67.5 L1682.0,67.5 L1684.5,67.4 L1687.0,67.3 L1689.5,67.2 L1692.0,67.1 L1694.5,67.0 L1697.0,67.0 L1699.5,66.9 L1702.0,66.8 L1704.5,66.7 L1707.0,66.7 L1709.5,66.6 L1712.0,66.5 L1714.5,66.4 L1717.0,66.4 L1719.5,66.3 L1722.0,66.2 L1724.5,66.1 L1727.0,66.1 L1729.5,66.0 L1732.0,65.9 L1734.5,65.9 L1737.0,65.8 L1739.5,65.7 L1742.0,65.6 L1744.5,65.6 L1747.0,65.5 L1749.5,65.4 L1752.0,65.4 L1754.5,65.3 L1757.0,65.2 L1759.4,65.2 L1761.9,65.1 L1764.4,65.0 L1766.9,65.0 L1769.4,64.9 L1771.9,64.8 L1774.4,64.8 L1776.9,64.7"/>
</g>
<g id="arrows" shape-rendering="crispEdges">
<line x1="714.8" y1="940.6" x2="538.8" y2="971.0" stroke="#050606" stroke-width="5.0"/>
<polygon points="518.0,974.3 536.7,961.2 540.9,980.7" fill="#050606"/>
<line x1="753.8" y1="1164.4" x2="578.0" y2="1195.0" stroke="#050606" stroke-width="5.0"/>
<polygon points="557.1,1198.9 576.0,1185.0 579.9,1205.0" fill="#050606"/>
</g>
<g id="ticklabels" fill="#050606" font-size="64.8" letter-spacing="0.8">
<text x="245.7" y="81.4" text-anchor="end">100</text>
<text x="245.7" y="348.5" text-anchor="end">80</text>
<text x="245.7" y="615.5" text-anchor="end">60</text>
<text x="245.7" y="882.5" text-anchor="end">40</text>
<text x="245.7" y="1149.5" text-anchor="end">20</text>
<text x="245.7" y="1416.4" text-anchor="end">0</text>
<text x="463.1" y="1458.8" text-anchor="middle">2600</text>
<text x="681.9" y="1458.8" text-anchor="middle">2500</text>
<text x="900.1" y="1458.8" text-anchor="middle">2400</text>
<text x="1118.9" y="1458.8" text-anchor="middle">2300</text>
<text x="1338.0" y="1458.8" text-anchor="middle">2200</text>
<text x="1557.1" y="1458.8" text-anchor="middle">2100</text>
<text x="1775.7" y="1458.8" text-anchor="middle">2000</text>
</g>
<text id="xtitle" x="775.2" y="1522.9" font-size="63.8" fill="#050606">T<tspan dx="0.5">e</tspan><tspan dx="1.2">m</tspan><tspan dx="1">p</tspan><tspan dx="-1">e</tspan><tspan dx="2">rat</tspan><tspan dx="-1">u</tspan><tspan dx="-1.5">r</tspan><tspan dx="-2.5">e</tspan> <tspan dx="1.5">(</tspan><tspan dx="1">K</tspan>)</text>
<text id="ytitle" transform="translate(85.0,1037.4) rotate(-90)" font-size="63.1" fill="#050606">C<tspan dx="2.5">onve</tspan><tspan dx="1.5">r</tspan><tspan dx="-2">s</tspan><tspan dx="-2">i</tspan><tspan dx="-1">o</tspan><tspan dx="-2.5">n</tspan> <tspan dx="0.5">r</tspan><tspan dx="-4">a</tspan><tspan dx="2">tio</tspan> <tspan dx="-4">(</tspan><tspan dx="2.5">%</tspan><tspan dx="6">)</tspan></text>
</svg></body></html>
